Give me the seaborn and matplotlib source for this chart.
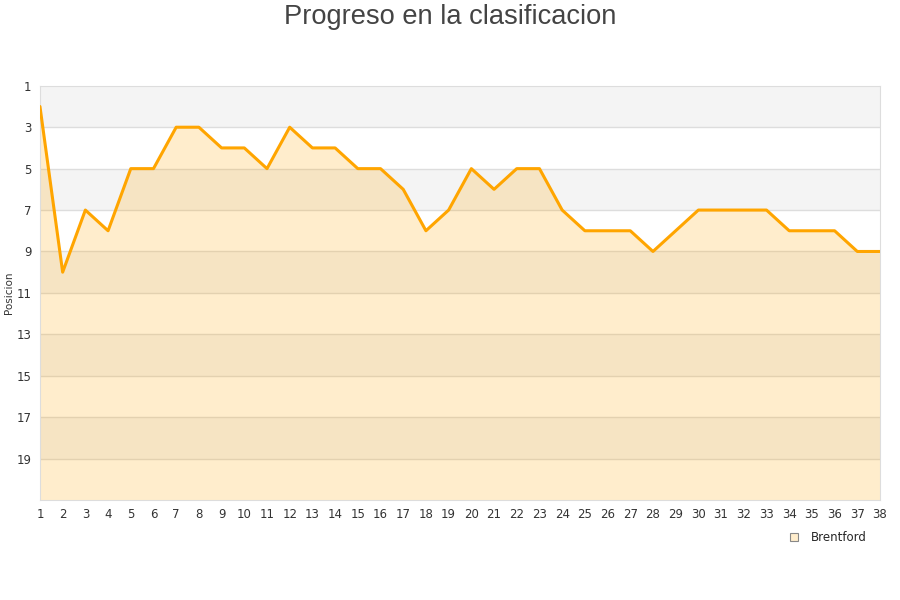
import matplotlib
matplotlib.use("Agg")
import matplotlib.pyplot as plt
import seaborn as sns
import pandas as pd

# jornadas y posicion de Brentford
jornadas = list(range(1, 39))
posicion = [2, 10, 7, 8, 5, 5, 3, 3, 4, 4,
            5, 3, 4, 4, 5, 5, 6, 8, 7, 5,
            6, 5, 5, 7, 8, 8, 8, 9, 8, 7,
            7, 7, 7, 8, 8, 8, 9, 9]
equipo = "Brentford"
y_ticks = list(range(1, 20, 2))

df = pd.DataFrame({"Jornada": jornadas, "Posicion": posicion})

sns.set_style("white")
plt.rcParams["font.family"] = ["DejaVu Sans"]

fig = plt.figure(figsize=(9, 6), dpi=100)
ax = fig.add_axes([0.0444, 0.1667, 0.9334, 0.6903])

# bandas alternas
for i, lo in enumerate(range(1, 21, 2)):
    if i % 2 == 0:
        ax.axhspan(lo, lo + 2, color="#f4f4f4", zorder=0, lw=0)
for t in range(3, 21, 2):
    ax.axhline(t, color="#dddddd", lw=1, zorder=1)

ax.fill_between(df["Jornada"], df["Posicion"], 21,
                color="#ffa500", alpha=0.2, lw=0, zorder=2)
sns.lineplot(data=df, x="Jornada", y="Posicion", ax=ax,
             color="#ffa500", lw=2.2, zorder=3)

ax.set_xlim(1, 38)
ax.set_ylim(21, 1)
ax.set_xticks(jornadas)
ax.set_yticks(y_ticks)
ax.tick_params(axis="both", length=0, labelsize=8.5, colors="#333333")
ax.tick_params(axis="x", pad=6)
ax.tick_params(axis="y", pad=6)
ax.set_xlabel("")
ax.set_ylabel("Posicion", fontsize=7.5, color="#333333")
ax.yaxis.set_label_coords(-0.031, 0.5)
for s in ax.spines.values():
    s.set_color("#dddddd")

fig.suptitle("Progreso en la clasificacion", fontsize=19.6, color="#444444", y=0.993,
             family=["Liberation Sans", "DejaVu Sans"])

handle = plt.Line2D([], [], marker="s", ls="", markersize=6,
                    markerfacecolor="#ffedcc", markeredgecolor="#888888",
                    markeredgewidth=0.8)
fig.legend([handle], [equipo], loc="upper right", bbox_to_anchor=(0.975, 0.133),
           frameon=False, fontsize=8.5, handletextpad=0.4)

fig.savefig("out.png", dpi=100)
